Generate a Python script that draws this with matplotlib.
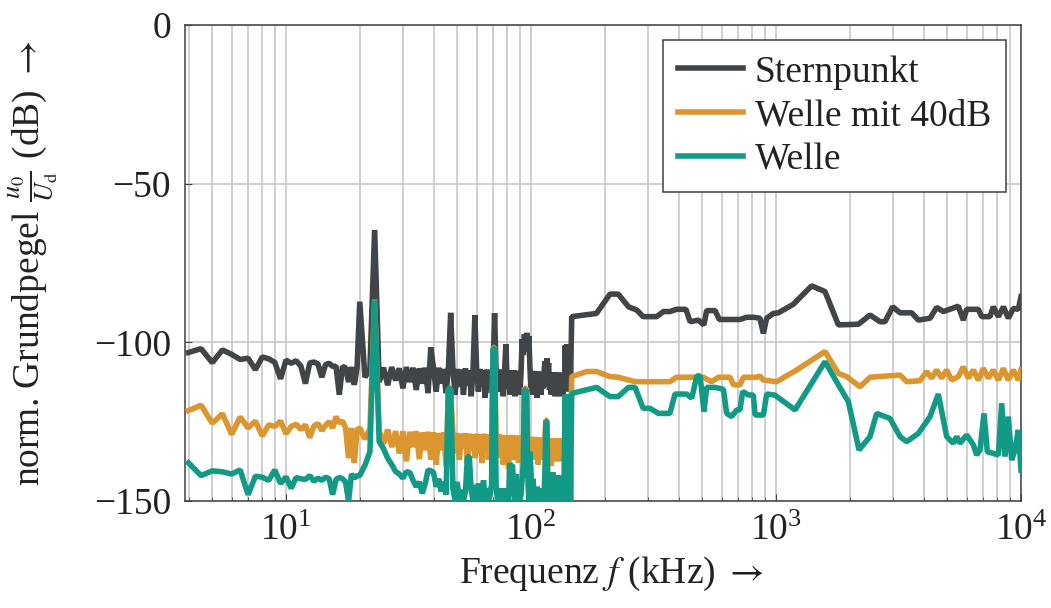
import numpy as np
import matplotlib
matplotlib.use("Agg")
import matplotlib.pyplot as plt

plt.rcParams['font.family'] = ['Liberation Serif', 'DejaVu Serif']
plt.rcParams['mathtext.fontset'] = 'stix'

# frequency bins (kHz) of the dense low part
freq_fine = np.arange(4.0, 20.0, 0.5)
freq_coarse = np.arange(20.0, 146.0, 1.0)

# Sternpunkt, low part
stern_fine = [-103.2, -102.0, -106.4, -102.4, -103.8, -105.4, -105.0, -108.6, -104.6, -105.2,
              -106.3, -111.5, -105.6, -106.6, -105.8, -107.5, -113.0, -106.5, -106.2, -106.8,
              -111.0, -107.0, -106.6, -107.6, -107.5, -116.5, -107.6, -108.0, -112.5, -107.8,
              -113.4, -108.0]
stern_coarse = [-87.2, -111.0, -108.5, -64.6, -112.5, -108.0, -113.5, -107.8, -112.0, -108.2,
                -114.5, -107.8, -112.5, -108.0, -115.0, -108.2, -113.0, -108.0, -116.0, -101.6,
                -108.2, -115.5, -108.0, -113.0, -108.4, -116.0, -108.6, -90.7, -108.5, -116.5,
                -108.4, -114.0, -108.6, -116.5, -108.2, -113.5, -108.8, -117.0, -108.5, -91.4,
                -108.6, -115.5, -108.4, -114.0, -108.8, -117.5, -108.6, -114.5, -108.8, -116.0,
                -109.0, -90.8, -108.8, -115.5, -108.6, -114.0, -109.0, -117.0, -108.8, -100.6,
                -114.5, -108.8, -116.5, -109.0, -114.0, -108.8, -117.0, -109.2, -115.0, -109.0,
                -116.5, -110.0, -99.0, -104.0, -97.5, -103.0, -97.0, -102.0, -98.0, -108.0,
                -115.5, -109.2, -116.5, -109.0, -114.5, -109.4, -117.5, -109.2, -115.0, -109.4,
                -116.5, -109.6, -114.5, -109.4, -106.0, -114.0, -105.0, -108.5, -106.5, -115.0,
                -109.4, -116.5, -109.6, -114.5, -109.8, -117.0, -109.4, -115.0, -109.8, -116.0,
                -109.6, -117.0, -109.8, -114.5, -109.6, -116.5, -110.0, -114.5, -101.0, -113.0,
                -100.6, -114.0, -101.5, -115.5, -100.8, -113.0]
# Sternpunkt, high part
stern_hi_f = [146.6, 185, 210, 227, 250, 270, 287, 326, 347, 369, 393, 429, 446, 482, 508, 521,
              564, 587, 713, 759, 808, 860, 888, 916, 975, 1022, 1177, 1398, 1585, 1797, 2168,
              2420, 2658, 2785, 2994, 3208, 3579, 3811, 4253, 4528, 4820, 5549, 5815, 6000,
              6696, 6910, 7471, 7709, 8082, 8473, 8878, 9305, 9752, 10000]
stern_hi = [-91.9, -90.9, -84.8, -84.8, -88.8, -89.8, -91.9, -91.9, -90.3, -90.3, -89.6, -89.6,
            -93.5, -93.0, -94.5, -90.0, -90.0, -92.8, -92.8, -92.1, -92.1, -92.4, -97.2, -92.4,
            -90.9, -90.7, -88.0, -82.2, -84.0, -94.5, -94.3, -91.4, -93.5, -93.5, -88.8, -90.7,
            -90.7, -93.0, -92.4, -89.0, -90.3, -88.6, -93.0, -89.6, -89.6, -91.9, -91.9, -88.8,
            -91.9, -88.8, -92.4, -89.3, -89.6, -85.6]

# Welle mit 40dB
w40_fine = [-121.5, -119.8, -125.5, -122.5, -129.0, -123.5, -127.0, -124.8, -129.5, -126.0,
            -126.5, -124.8, -128.8, -126.5, -125.8, -127.5, -126.0, -130.0, -126.4, -125.6,
            -127.8, -126.2, -125.0, -127.0, -123.4, -125.4, -124.8, -126.8, -136.5, -127.0,
            -138.0, -127.5]
w40_coarse = [-127.0, -130.5, -127.2, -86.5, -127.8, -132.0, -127.5, -133.0, -128.0, -135.0,
              -128.0, -137.5, -128.2, -133.0, -128.0, -136.8, -128.4, -134.0, -128.2, -137.0,
              -128.4, -138.5, -128.6, -134.0, -128.4, -138.8, -115.0, -115.0, -128.6, -135.0,
              -128.6, -137.0, -128.8, -133.5, -128.6, -138.0, -128.8, -134.0, -129.0, -136.5,
              -128.8, -135.0, -129.0, -138.0, -128.8, -134.0, -129.0, -137.0, -129.2, -135.0,
              -101.6, -101.6, -129.2, -136.5, -129.0, -134.0, -129.2, -138.5, -129.4, -135.0,
              -129.2, -140.0, -129.4, -134.5, -129.2, -137.0, -129.4, -135.5, -129.6, -138.0,
              -129.4, -134.5, -129.6, -136.0, -114.5, -114.5, -114.5, -134.0, -129.8, -138.0,
              -129.8, -136.5, -130.0, -134.5, -129.8, -137.0, -130.0, -138.5, -130.2, -135.0,
              -130.0, -137.0, -130.2, -134.5, -130.0, -124.5, -124.5, -136.0, -130.2, -134.5,
              -130.4, -139.0, -130.2, -135.0, -130.4, -137.5, -130.2, -134.5, -130.4, -136.0,
              -130.2, -137.5, -130.4, -134.0, -130.2, -136.5, -130.4, -134.5, -130.2, -135.5,
              -130.4, -134.5, -130.2, -136.0, -130.4, -130.0]
w40_hi_f = [146.6, 169, 185, 210, 227, 266, 369, 393, 460, 505, 546, 582, 649, 670, 713, 736,
            834, 860, 888, 1006, 1215, 1585, 1797, 1943, 2202, 2420, 3208, 3415, 3871, 4121,
            4319, 4528, 4745, 4973, 5212, 5549, 5815, 6095, 6389, 6696, 7020, 7357, 7709,
            8082, 8473, 8878, 9305, 9752, 10000]
w40_hi = [-110.8, -109.2, -109.2, -110.8, -111.0, -112.4, -112.4, -111.0, -111.0, -111.0,
          -112.4, -111.0, -111.0, -113.4, -113.4, -111.0, -111.0, -110.6, -111.9, -112.4,
          -108.7, -102.9, -109.8, -110.8, -114.0, -111.0, -110.3, -112.4, -112.1, -109.2,
          -111.3, -108.7, -111.3, -108.7, -111.9, -110.8, -107.7, -111.3, -108.7, -111.9,
          -108.2, -111.3, -108.7, -111.9, -108.2, -111.9, -108.7, -111.9, -108.7]

# Welle
welle_fine = [-138.0, -142.0, -140.5, -140.8, -141.5, -140.2, -148.0, -142.2, -142.5, -143.5,
              -140.2, -144.5, -142.4, -146.0, -142.6, -143.0, -143.2, -142.0, -143.8, -142.8,
              -143.5, -142.5, -143.0, -148.0, -143.2, -142.6, -143.0, -144.0, -150.0, -141.5,
              -142.8, -142.0]
welle_coarse = [-142.0, -138.7, -134.5, -86.8, -131.3, -133.5, -136.5, -138.5, -140.7, -141.5,
                -142.8, -140.8, -141.0, -143.5, -145.5, -144.0, -147.6, -144.5, -140.2, -140.5,
                -141.0, -145.5, -143.0, -147.0, -144.0, -148.0, -114.5, -114.5, -146.0, -150.0,
                -144.0, -150.0, -146.5, -150.0, -147.0, -136.0, -136.0, -146.5, -150.0, -145.0,
                -150.0, -144.5, -150.0, -148.5, -143.5, -150.0, -146.0, -150.0, -148.0, -145.0,
                -102.0, -102.0, -145.0, -150.0, -146.0, -150.0, -147.0, -150.0, -146.0, -150.0,
                -147.5, -150.0, -138.0, -141.0, -138.5, -146.0, -150.0, -141.5, -150.0, -146.0,
                -150.0, -148.0, -143.0, -138.0, -115.0, -115.0, -115.5, -142.0, -150.0, -134.5,
                -141.0, -150.0, -143.0, -150.0, -146.0, -150.0, -145.5, -150.0, -147.0, -150.0,
                -146.5, -150.0, -146.0, -150.0, -140.0, -125.0, -125.0, -141.0, -150.0, -146.0,
                -150.0, -143.0, -150.0, -141.0, -150.0, -144.0, -150.0, -142.0, -150.0, -147.0,
                -142.0, -150.0, -145.0, -150.0, -148.0, -143.0, -150.0, -132.0, -116.5, -150.0,
                -116.5, -150.0, -117.0, -150.0, -116.5, -150.0]
welle_hi_f = [146.6, 185, 210, 227, 250, 266, 287, 306, 331, 369, 387, 432, 453, 475, 490, 508,
              521, 564, 610, 629, 659, 691, 713, 731, 771, 808, 821, 888, 916, 988, 1196, 1398,
              1585, 1797, 1974, 2182, 2420, 2576, 2920, 3208, 3415, 3811, 4253, 4598, 4973,
              5293, 5462, 5636, 6000, 6389, 6592, 6801, 7064, 7289, 7709, 8082, 8340, 8604,
              8878, 9160, 9452, 9752, 10000]
welle_hi = [-116.1, -114.2, -117.1, -117.1, -114.2, -114.2, -120.8, -120.8, -122.4, -122.4,
            -116.3, -116.3, -117.6, -110.6, -110.6, -121.8, -114.2, -114.2, -114.8, -122.4,
            -123.4, -121.3, -121.3, -115.5, -116.6, -116.6, -122.9, -122.9, -116.3, -116.6,
            -121.3, -112.9, -106.1, -113.4, -118.7, -133.9, -129.7, -122.4, -124.0, -129.7,
            -131.3, -128.7, -123.4, -116.3, -129.7, -131.8, -129.7, -131.8, -129.2, -132.3,
            -135.5, -133.9, -122.4, -134.5, -135.0, -135.5, -119.2, -136.0, -123.4, -137.1,
            -133.9, -127.6, -140.3]

labels = ['Sternpunkt', 'Welle mit 40dB', 'Welle']
colors = ['#414547', '#dc962f', '#139a86']

series = [
    (stern_fine, stern_coarse, stern_hi_f, stern_hi),
    (w40_fine, w40_coarse, w40_hi_f, w40_hi),
    (welle_fine, welle_coarse, welle_hi_f, welle_hi),
]

FS = 27

fig = plt.figure(figsize=(10.51, 6.08), dpi=100)
ax = fig.add_axes([185 / 1051, 1 - 501 / 608, 836 / 1051, 476 / 608])

for i, (lo1, lo2, hf, hv) in enumerate(series):
    f = np.concatenate([freq_fine, freq_coarse, hf])
    v = np.concatenate([lo1, lo2, hv])
    ax.plot(f, v, color=colors[i], lw=4, label=labels[i], zorder=3 + i,
            solid_joinstyle='bevel')

ax.set_xscale('log')
ax.set_xlim(3.87, 1e4)
ax.set_ylim(-150, 0)
ax.set_yticks([-150, -100, -50, 0])

ax.grid(True, which='both', axis='x', color='#cccccc', lw=1.3)
ax.grid(True, which='major', axis='y', color='#cccccc', lw=1.3)
ax.set_axisbelow(True)

for s in ax.spines.values():
    s.set_color('#404040')
    s.set_linewidth(1.1)
ax.tick_params(which='both', direction='in', colors='#404040', labelcolor='#222222',
               labelsize=FS)
ax.tick_params(axis='x', which='major', pad=9, length=5)
ax.tick_params(axis='x', which='minor', length=3)
ax.tick_params(axis='y', pad=10, length=5)

ax.set_xlabel(r'Frequenz $f$ (kHz) $\rightarrow$', fontsize=FS, color='#222222')
ax.set_ylabel(r'norm. Grundpegel $\frac{u_0}{U_\mathrm{d}}$ (dB) $\rightarrow$',
              fontsize=FS, color='#222222')
ax.xaxis.set_label_coords(0.51, -0.112)
ax.yaxis.set_label_coords(-0.15, 0.5)

leg = ax.legend(loc='upper right', fontsize=FS, handlelength=1.75, handletextpad=0.3,
                labelspacing=0.25, borderpad=0.4, borderaxespad=0.4,
                fancybox=False, framealpha=1, edgecolor='#404040')
leg.get_frame().set_linewidth(1.1)
for t in leg.get_texts():
    t.set_color('#222222')

fig.savefig('out.png', dpi=100)
